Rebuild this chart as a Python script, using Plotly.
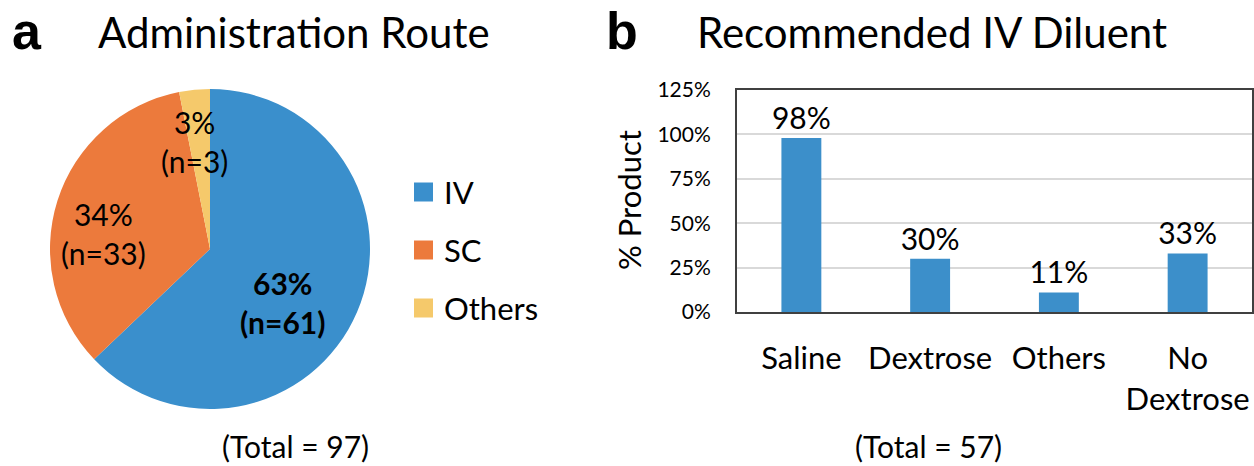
import plotly.graph_objects as go

W, H = 1254, 466

# ---- data ----
route_labels = ["IV", "SC", "Others"]
route_counts = [61, 33, 3]
route_pcts = [63, 34, 3]
route_colors = ["#3a8fcc", "#ec7a3c", "#f5c96b"]
route_total = 97

diluent_labels = ["Saline", "Dextrose", "Others", "No<br>Dextrose"]
diluent_pcts = [98, 30, 11, 33]
diluent_total = 57

FONT = "Lato"

def px(x):
    return x / W

def py(y):
    return 1 - y / H

fig = go.Figure()

fig.add_trace(go.Pie(
    labels=route_labels, values=route_counts, sort=False, direction="clockwise",
    rotation=0, marker=dict(colors=route_colors, line=dict(width=0)),
    textinfo="none", hoverinfo="label+value", showlegend=False,
    domain=dict(x=[px(50), px(370)], y=[py(409), py(89)]),
))

fig.add_trace(go.Bar(
    x=diluent_labels, y=[v / 100 for v in diluent_pcts],
    marker=dict(color="#3c8fca", line=dict(width=0)),
    text=[f"{v}%" for v in diluent_pcts], textposition="outside",
    constraintext="none",
    textfont=dict(size=30, color="black", family=FONT),
    cliponaxis=False, showlegend=False, width=0.31,
))

fig.update_layout(
    width=W, height=H, margin=dict(l=0, r=0, t=0, b=0, autoexpand=False),
    paper_bgcolor="white", plot_bgcolor="white",
    font=dict(family=FONT, color="black"),
    xaxis=dict(domain=[px(737), px(1252)], showline=True, mirror=True,
               linecolor="#404040", linewidth=2, showgrid=False,
               tickfont=dict(size=31), ticks="", ticklabelstandoff=18,
               fixedrange=True, automargin=False),
    yaxis=dict(domain=[py(312), py(90)], range=[0, 1.25], dtick=0.25,
               tickformat=".0%", showline=True, mirror=True,
               linecolor="#404040", linewidth=2, gridcolor="#d9d9d9",
               gridwidth=2, tickfont=dict(size=21), ticks="",
               ticklabelstandoff=20, zeroline=False, fixedrange=True,
               automargin=False),
)

ann = []
def text(x, y, s, size, bold=False, angle=0, xanchor="center"):
    ann.append(dict(x=px(x), y=py(y), xref="paper", yref="paper", text=(f"<b>{s}</b>" if bold else s),
                    showarrow=False, font=dict(size=size, family=FONT, color="black"),
                    xanchor=xanchor, yanchor="middle", textangle=angle, align="center"))

# panel letters and titles
ann.append(dict(x=px(10), y=py(31), xref="paper", yref="paper", text="<b>a</b>", showarrow=False,
                font=dict(size=52, family="Liberation Sans", color="black"), xanchor="left", yanchor="middle"))
ann.append(dict(x=px(604), y=py(31), xref="paper", yref="paper", text="<b>b</b>", showarrow=False,
                font=dict(size=52, family="Liberation Sans", color="black"), xanchor="left", yanchor="middle"))
text(96, 32, "Administration Route", 42, xanchor="left")
text(695, 32, "Recommended IV Diluent", 42, xanchor="left")

# pie labels
text(282, 302, f"{route_pcts[0]}%<br>(n={route_counts[0]})", 30, bold=True)
text(103, 233, f"{route_pcts[1]}%<br>(n={route_counts[1]})", 30)
text(194, 141, f"{route_pcts[2]}%<br>(n={route_counts[2]})", 30)

# legend
legend_y = [192, 250, 308]
shapes = []
for lab, col, yy in zip(route_labels, route_colors, legend_y):
    shapes.append(dict(type="rect", xref="paper", yref="paper", x0=px(414), x1=px(433),
                       y0=py(yy + 9.5), y1=py(yy - 9.5), fillcolor=col, line=dict(width=0)))
    text(442, yy, lab, 31, xanchor="left")

# totals
text(295, 446, f"(Total = {route_total})", 30)
text(928, 446, f"(Total = {diluent_total})", 30)

# y-axis title
text(629, 200, "% Product", 31, angle=-90)

fig.update_layout(annotations=ann, shapes=shapes)
fig.write_html("out.html", config={"displayModeBar": False},
               post_script="document.body.style.margin='0';document.body.style.padding='0';document.body.style.overflow='hidden';")
